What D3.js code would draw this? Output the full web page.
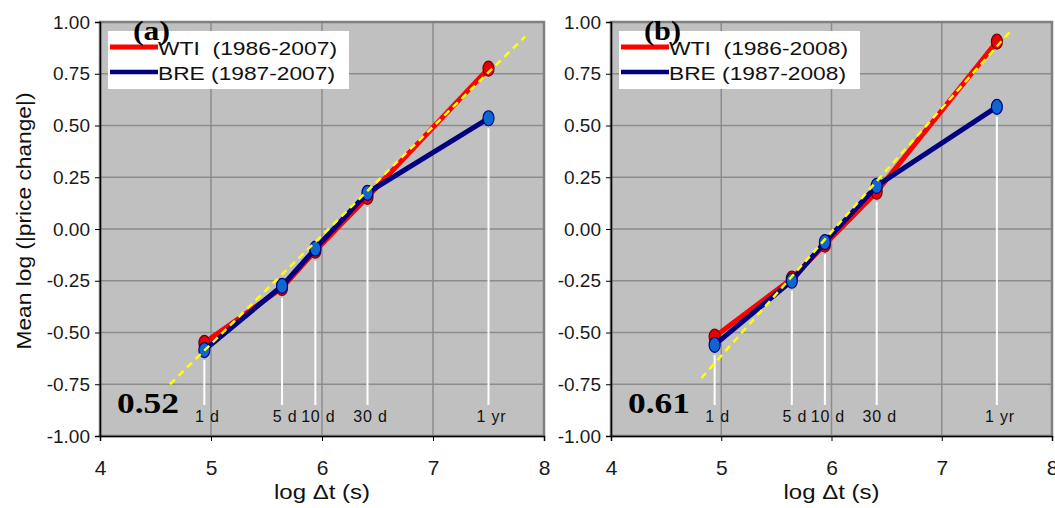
<!DOCTYPE html>
<html lang="en">
<head>
  <meta charset="UTF-8">
  <title>Mean log price change vs horizon</title>
  <script src="https://d3js.org/d3.v7.min.js"></script>
  <style>
    body { margin: 0; background: white; }
    svg { display: block; }
    .tick-num { font-family: "Liberation Sans Narrow", "Arial Narrow", sans-serif; fill: #1a1a1a; }
    .sans { font-family: "Liberation Sans", Arial, sans-serif; fill: #111; white-space: pre; }
    .serif { font-family: "Liberation Serif", "Times New Roman", serif; font-weight: bold; fill: #000; }
  </style>
</head>
<body>
  <svg width="1055" height="508"></svg>

  <script>
    // values
    const xTicks = [4, 5, 6, 7, 8];
    const yTicks = [-1, -0.75, -0.5, -0.25, 0, 0.25, 0.5, 0.75, 1];
    const horizons = ["1 d", "5 d", "10 d", "30 d", "1 yr"];
    const logDt = [4.94, 5.64, 5.94, 6.41, 7.50];

    const wtiA = [-0.55, -0.285, -0.105, 0.155, 0.775];
    const breA = [-0.585, -0.275, -0.095, 0.175, 0.535];
    const wtiB = [-0.52, -0.24, -0.075, 0.18, 0.905];
    const breB = [-0.56, -0.25, -0.063, 0.208, 0.59];

    const fitA = [[4.63, -0.75], [7.83, 0.93]];
    const fitB = [[4.82, -0.72], [7.63, 0.96]];

    const legendA = ["WTI  (1986-2007)", "BRE (1987-2007)"];
    const legendB = ["WTI  (1986-2008)", "BRE (1987-2008)"];

    const svg = d3.select("svg");

    const panels = [
      { left: 100, right: 544, tag: "(a)", slope: "0.52", wti: wtiA, bre: breA, fit: fitA, legend: legendA, yTitle: true },
      { left: 611, right: 1052, tag: "(b)", slope: "0.61", wti: wtiB, bre: breB, fit: fitB, legend: legendB, yTitle: false }
    ];

    const plotTop = 22, plotBottom = 436;
    const fmt = d => d3.format(".2f")(d).replace("\u2212", "-");

    panels.forEach(p => {
      const x = d3.scaleLinear().domain([4, 8]).range([p.left, p.right]);
      const y = d3.scaleLinear().domain([-1, 1]).range([plotBottom, plotTop]);
      const g = svg.append("g");

      // plot background
      g.append("rect")
        .attr("x", p.left).attr("y", plotTop)
        .attr("width", p.right - p.left).attr("height", plotBottom - plotTop)
        .attr("fill", "#c0c0c0");

      // grid
      g.append("g").selectAll("line")
        .data(yTicks.slice(1, -1))
        .join("line")
        .attr("x1", p.left).attr("x2", p.right)
        .attr("y1", d => y(d)).attr("y2", d => y(d))
        .attr("stroke", "#8c8c8c").attr("stroke-width", 1.5);
      g.append("g").selectAll("line")
        .data(xTicks.slice(1, -1))
        .join("line")
        .attr("x1", d => x(d)).attr("x2", d => x(d))
        .attr("y1", plotTop).attr("y2", plotBottom)
        .attr("stroke", "#8c8c8c").attr("stroke-width", 1.5);

      // frame
      g.append("rect")
        .attr("x", p.left).attr("y", plotTop)
        .attr("width", p.right - p.left).attr("height", plotBottom - plotTop)
        .attr("fill", "none").attr("stroke", "#808080").attr("stroke-width", 2.5);

      // axes
      const yAxis = d3.axisLeft(y).tickValues(yTicks).tickSize(5).tickFormat(fmt);
      const ya = g.append("g").attr("transform", `translate(${p.left},0)`).call(yAxis);
      ya.select(".domain").attr("stroke", "#000").attr("stroke-width", 1.5);
      ya.selectAll("text").attr("class", "tick-num").attr("font-size", 19).attr("x", -10);

      const xAxis = d3.axisBottom(x).tickValues(xTicks).tickSize(5).tickFormat(d3.format("d"));
      const xa = g.append("g").attr("transform", `translate(0,${plotBottom})`).call(xAxis);
      xa.select(".domain").attr("stroke", "#000").attr("stroke-width", 1.5);
      xa.selectAll("text").attr("class", "tick-num").attr("font-size", 21).attr("y", 24);

      g.selectAll(".tick line").attr("stroke", "#000");

      // white drop lines and horizon labels
      g.append("g").selectAll("line")
        .data(logDt)
        .join("line")
        .attr("x1", d => x(d)).attr("x2", d => x(d))
        .attr("y1", (d, i) => y(Math.min(p.wti[i], p.bre[i])) + 10)
        .attr("y2", 405)
        .attr("stroke", "white").attr("stroke-width", 2);
      g.append("g").selectAll("text")
        .data(logDt)
        .join("text")
        .attr("class", "sans")
        .attr("x", d => x(d) + 3).attr("y", 422)
        .attr("text-anchor", "middle")
        .attr("font-size", 16)
        .attr("letter-spacing", 0.8)
        .text((d, i) => horizons[i]);

      // series
      const line = d3.line().x((d, i) => x(logDt[i])).y(d => y(d));
      g.append("path").datum(p.wti).attr("d", line)
        .attr("fill", "none").attr("stroke", "#ff0000").attr("stroke-width", 5);
      g.append("g").selectAll("ellipse")
        .data(p.wti).join("ellipse")
        .attr("cx", (d, i) => x(logDt[i])).attr("cy", d => y(d))
        .attr("rx", 5.5).attr("ry", 7.5)
        .attr("fill", "#e60000").attr("stroke", "#7a0000").attr("stroke-width", 1.2);

      g.append("path").datum(p.bre).attr("d", line)
        .attr("fill", "none").attr("stroke", "#000080").attr("stroke-width", 5);
      g.append("g").selectAll("ellipse")
        .data(p.bre).join("ellipse")
        .attr("cx", (d, i) => x(logDt[i])).attr("cy", d => y(d))
        .attr("rx", 5.5).attr("ry", 7.5)
        .attr("fill", "#0f66d0").attr("stroke", "#000080").attr("stroke-width", 1.2);

      // fitted line
      g.append("line")
        .attr("x1", x(p.fit[0][0])).attr("y1", y(p.fit[0][1]))
        .attr("x2", x(p.fit[1][0])).attr("y2", y(p.fit[1][1]))
        .attr("stroke", "#ffff00").attr("stroke-width", 2.5)
        .attr("stroke-dasharray", "7,5");

      // slope label
      g.append("text").attr("class", "serif")
        .attr("x", p.left + 17).attr("y", 413)
        .attr("font-size", 30).attr("textLength", 62).attr("lengthAdjust", "spacingAndGlyphs")
        .text(p.slope);

      // legend
      const lg = g.append("g").attr("transform", `translate(${p.left + 8},31)`);
      lg.append("rect").attr("width", 241).attr("height", 58).attr("fill", "white");
      const colors = ["#ff0000", "#000080"];
      p.legend.forEach((t, i) => {
        lg.append("line")
          .attr("x1", 2).attr("x2", 50)
          .attr("y1", 16 + i * 25).attr("y2", 16 + i * 25)
          .attr("stroke", colors[i]).attr("stroke-width", i === 0 ? 5 : 4.5);
        lg.append("text").attr("class", "sans")
          .attr("x", 50).attr("y", 24 + i * 24.5)
          .attr("font-size", 19)
          .attr("textLength", 179 - i * 2).attr("lengthAdjust", "spacingAndGlyphs")
          .text(t);
      });

      // panel tag
      g.append("text").attr("class", "serif")
        .attr("x", p.left + 33).attr("y", 40)
        .attr("font-size", 28).attr("textLength", 37).attr("lengthAdjust", "spacingAndGlyphs")
        .text(p.tag);

      // x title
      g.append("text").attr("class", "sans")
        .attr("x", x(6)).attr("y", 499)
        .attr("text-anchor", "middle")
        .attr("font-size", 21)
        .attr("textLength", 96).attr("lengthAdjust", "spacingAndGlyphs")
        .text("log Δt (s)");

      if (p.yTitle) {
        g.append("text").attr("class", "sans")
          .attr("transform", "translate(31,221) rotate(-90)")
          .attr("text-anchor", "middle")
          .attr("font-size", 20)
          .attr("textLength", 257).attr("lengthAdjust", "spacingAndGlyphs")
          .text("Mean log (|price change|)");
      }
    });
  </script>
</body>
</html>
